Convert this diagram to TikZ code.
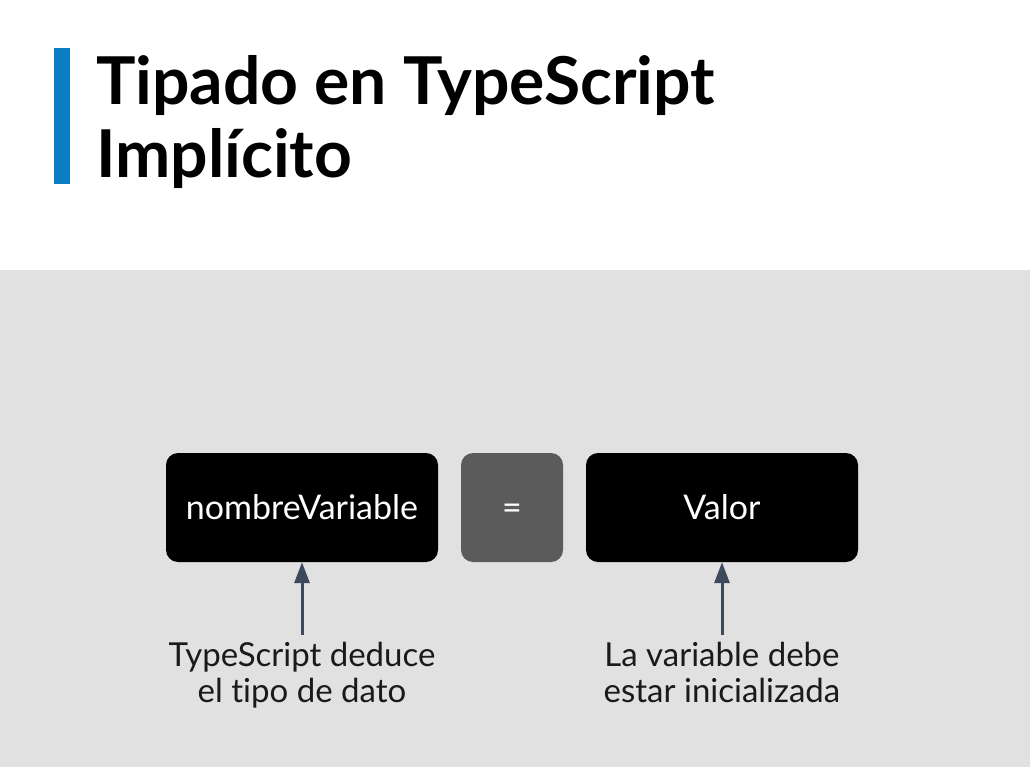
\documentclass[tikz,border=0pt]{standalone}
\usepackage{fontspec}
\setmainfont{Lato}[Ligatures={NoCommon,NoRare}]
\usetikzlibrary{arrows.meta}
\definecolor{bggray}{HTML}{E1E1E1}
\definecolor{barblue}{HTML}{0A7EC2}
\definecolor{eqgray}{HTML}{5A5B5A}
\definecolor{arrowslate}{HTML}{3D4A5C}
\definecolor{labelink}{HTML}{1A1A1A}
\tikzset{
  box/.style={rounded corners=12pt, fill=black, text=white, minimum width=272pt,
    minimum height=109pt, inner sep=0pt, text height=24pt, text depth=0pt,
    font=\fontsize{34}{40}\selectfont},
  eqbox/.style={box, fill=eqgray, minimum width=102pt},
  note/.style={align=center, text=labelink, inner sep=0pt, outer ysep=7pt,
    anchor=north, font=\fontsize{33}{36}\selectfont},
  arr/.style={-{Triangle[length=21pt,width=15pt]}, line width=3pt, draw=arrowslate}
}
\begin{document}
\begin{tikzpicture}[x=1pt,y=-1pt]
  \useasboundingbox (0,0) rectangle (1030,767);
  \fill[white] (0,0) rectangle (1030,767);
  \fill[bggray] (0,270) rectangle (1030,767);
  \fill[barblue] (54,48) rectangle (70,184);
  \node[anchor=base west, align=left, inner sep=0pt,
    font=\fontsize{66}{73}\selectfont\bfseries] (title) at (96,178)
    {Tipado en TypeScript\\Implícito};
  \draw
    (302,507.5) node[box] (nombre) {nombreVariable}
    (512,507.5) node[eqbox] (igual) {=}
    (722,507.5) node[box] (valor) {Valor}
    (302,635) node[note] (deduce) {TypeScript deduce\\el tipo de dato}
    (722,635) node[note] (inicial) {La variable debe\\estar inicializada};
  \begin{scope}[arr]
    \draw (deduce.north) to (nombre.south);
    \draw (inicial.north) to (valor.south);
  \end{scope}
\end{tikzpicture}
\end{document}
